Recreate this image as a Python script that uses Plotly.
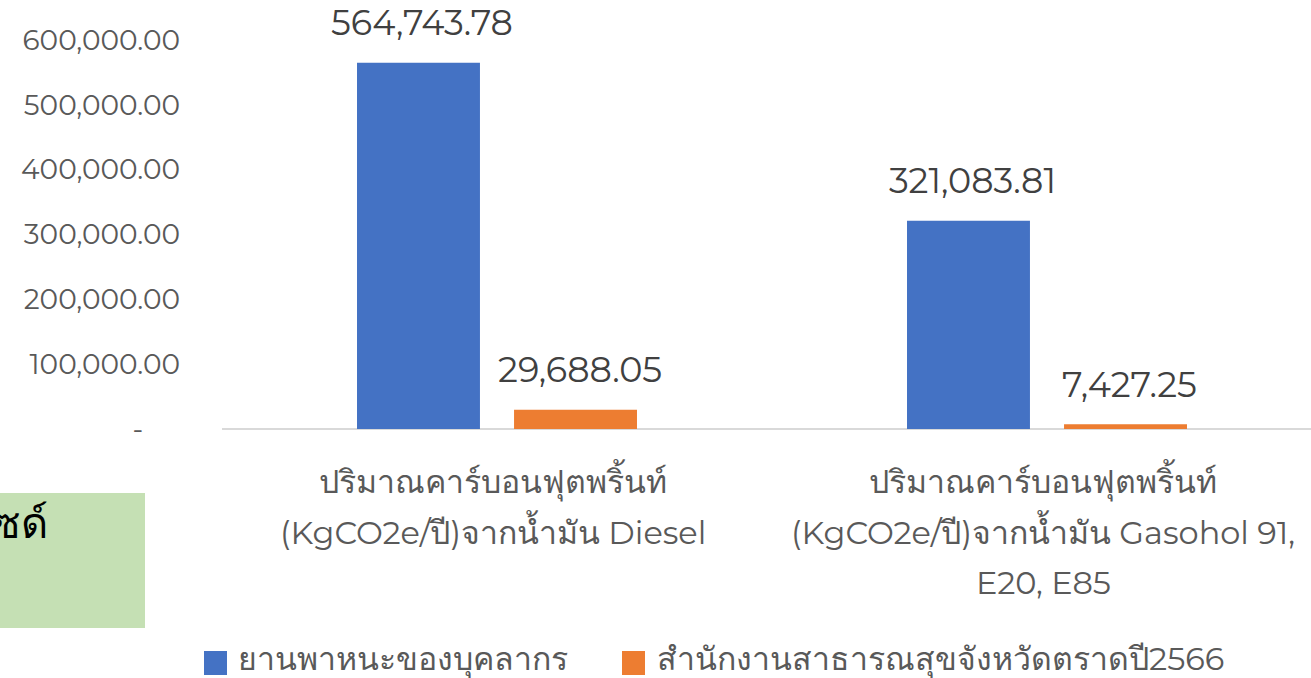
import plotly.graph_objects as go

# ---------------- data ----------------
categories = [
    "ปริมาณคาร์บอนฟุตพริ้นท์<br>(KgCO2e/ปี)จากน้ำมัน Diesel",
    "ปริมาณคาร์บอนฟุตพริ้นท์<br>(KgCO2e/ปี)จากน้ำมัน Gasohol 91,<br>E20, E85",
]
series_names = ["ยานพาหนะของบุคลากร", "สำนักงานสาธารณสุขจังหวัดตราดปี2566"]
personnel_values = [564743.78, 321083.81]
office_values = [29688.05, 7427.25]
ytick_vals = [0, 100000, 200000, 300000, 400000, 500000, 600000]
ytick_text = ["-\u00a0\u00a0\u00a0\u00a0\u00a0", "100,000.00", "200,000.00", "300,000.00",
              "400,000.00", "500,000.00", "600,000.00"]
side_box_text = "ซด์"

# ---------------- style ----------------
colors = ["#4472C4", "#ED7D31"]
FONT = "Montserrat, 'Noto Sans', 'DejaVu Sans', sans-serif"
W, H = 1311, 678
ML, MR, MT, MB = 222, 0, 40, 249
PW = W - ML - MR
PH = H - MT - MB
BARGAP = 0.429
BARGROUPGAP = 0.217


def px2paper_x(px):
    return (px - ML) / PW


def px2paper_y(py):
    return (H - MB - py) / PH


xs = list(range(len(categories)))
fig = go.Figure()
for name, vals, col in zip(series_names, [personnel_values, office_values], colors):
    fig.add_trace(go.Bar(x=xs, y=vals, name=name, marker=dict(color=col, line=dict(width=0)),
                         showlegend=False, hoverinfo="y"))

annotations = []
slot = (1 - BARGAP) / 2
offsets = [-slot / 2, slot / 2]
for vals, off in zip([personnel_values, office_values], offsets):
    for i, v in enumerate(vals):
        annotations.append(dict(x=xs[i] + off, y=v, xref="x", yref="y",
                                text=f"{v:,.2f}", showarrow=False,
                                yanchor="middle", yshift=40, xshift=4,
                                font=dict(family=FONT, size=35, color="#404040")))

# category labels (line by line for Excel-like spacing)
for i, cat in enumerate(categories):
    for j, line in enumerate(cat.split("<br>")):
        annotations.append(dict(x=xs[i], y=0, xref="x", yref="y", text=line,
                                showarrow=False, yanchor="middle",
                                yshift=-51 - 51 * j, xshift=-4,
                                font=dict(family=FONT, size=32, color="#595959")))

# custom legend
legend_text_x = [236, 655]
legend_box_x = [204, 622]
shapes = []
for name, col, tx, bx in zip(series_names, colors, legend_text_x, legend_box_x):
    shapes.append(dict(type="rect", xref="paper", yref="paper",
                       x0=px2paper_x(bx), x1=px2paper_x(bx + 23),
                       y0=px2paper_y(675), y1=px2paper_y(651),
                       fillcolor=col, line=dict(width=0), layer="above"))
    annotations.append(dict(x=px2paper_x(tx), y=px2paper_y(659), xref="paper", yref="paper",
                            text=name, showarrow=False, xanchor="left", yanchor="middle",
                            font=dict(family=FONT, size=32, color="#595959")))

# green side box (partially visible text box)
shapes.append(dict(type="rect", xref="paper", yref="paper",
                   x0=px2paper_x(-5), x1=px2paper_x(145),
                   y0=px2paper_y(628), y1=px2paper_y(493),
                   fillcolor="#C5E0B4", line=dict(width=0), layer="below"))
annotations.append(dict(x=px2paper_x(50), y=px2paper_y(523), xref="paper", yref="paper",
                        text=side_box_text, showarrow=False, xanchor="right", yanchor="middle",
                        font=dict(family=FONT, size=42, color="#000000")))

fig.update_layout(
    width=W, height=H,
    margin=dict(l=ML, r=MR, t=MT, b=MB, pad=0),
    paper_bgcolor="white", plot_bgcolor="white",
    barmode="group", bargap=BARGAP, bargroupgap=BARGROUPGAP,
    showlegend=False,
    annotations=annotations, shapes=shapes,
    xaxis=dict(range=[-0.5, -0.5 + PW / 550.0], showticklabels=False, showgrid=False,
               zeroline=False, showline=False, ticks=""),
    yaxis=dict(range=[0, 600000], tickvals=ytick_vals, ticktext=ytick_text,
               showgrid=False, zeroline=True, zerolinecolor="#D9D9D9", zerolinewidth=2,
               showline=False, ticks="", ticklabelstandoff=41,
               tickfont=dict(family=FONT, size=28, color="#595959")),
)

fig.write_html("out.html", config={"displayModeBar": False},
               post_script="document.body.style.margin='0';document.body.style.overflow='hidden';")
